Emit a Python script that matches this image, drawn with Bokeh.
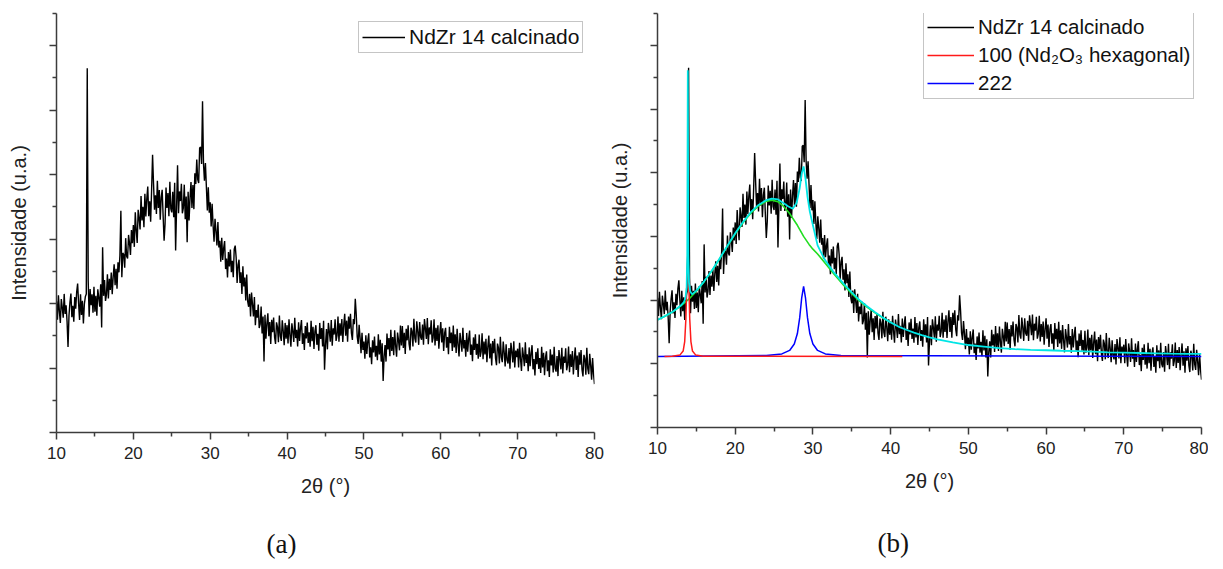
from bokeh.plotting import figure
from bokeh.layouts import row
from bokeh.models import FixedTicker, Legend, LegendItem, Title
from bokeh.embed import file_html
from bokeh.resources import INLINE

# ---------------- data ----------------
theta_start = 10.0
theta_step = 0.125
intensity = [
    # 10.000 - 14.875
    407, 350, 426, 376, 340, 414, 388, 356, 430, 368, 395, 344, 265, 363, 404, 431, 358, 393, 344, 420,
    384, 436, 462, 401, 349, 429, 365, 409, 338, 398, 421, 430, 1130, 470, 359, 445, 395, 429, 372, 452,
    # 15.000 - 19.875
    375, 424, 362, 444, 418, 390, 460, 326, 575, 424, 473, 408, 428, 491, 416, 477, 442, 496, 429, 483,
    522, 457, 508, 446, 528, 497, 549, 688, 482, 557, 552, 511, 603, 547, 540, 613, 587, 551, 628, 587,
    # 20.000 - 24.875
    644, 576, 683, 627, 588, 691, 664, 630, 734, 658, 700, 637, 741, 670, 725, 763, 671, 717, 654, 753,
    862, 772, 691, 736, 678, 781, 697, 752, 660, 730, 753, 671, 595, 647, 760, 697, 743, 671, 778, 694,
    # 25.000 - 29.875
    683, 747, 668, 775, 565, 699, 829, 680, 748, 718, 772, 680, 696, 769, 662, 732, 590, 747, 658, 728,
    777, 697, 768, 693, 804, 771, 847, 785, 774, 883, 886, 833, 1028, 835, 781, 836, 763, 689, 761, 682,
    # 30.000 - 34.875
    714, 639, 710, 643, 592, 663, 626, 580, 653, 574, 595, 530, 604, 535, 572, 594, 507, 540, 481, 560,
    515, 568, 497, 533, 482, 569, 580, 543, 464, 520, 536, 464, 497, 430, 516, 453, 481, 410, 490, 407,
    # 35.000 - 39.875
    390, 430, 360, 434, 398, 360, 420, 333, 380, 356, 397, 324, 336, 391, 307, 360, 220, 365, 291, 338,
    370, 299, 343, 275, 350, 311, 357, 296, 275, 342, 328, 280, 363, 299, 284, 348, 315, 271, 340, 291,
    # 40.000 - 44.875
    333, 276, 351, 302, 266, 339, 314, 281, 356, 293, 319, 267, 342, 284, 324, 349, 275, 308, 256, 330,
    292, 341, 278, 311, 266, 347, 283, 328, 259, 314, 333, 272, 306, 254, 340, 290, 324, 267, 347, 195,
    # 45.000 - 49.875
    272, 321, 258, 340, 313, 282, 349, 269, 323, 304, 351, 284, 301, 360, 282, 339, 300, 352, 281, 333,
    368, 300, 347, 282, 360, 322, 368, 308, 287, 352, 336, 415, 366, 297, 275, 334, 294, 246, 309, 256,
    # 50.000 - 54.875
    282, 229, 302, 244, 283, 308, 233, 264, 212, 286, 248, 298, 235, 269, 224, 305, 242, 288, 220, 277,
    160, 236, 271, 220, 307, 258, 293, 237, 319, 253, 296, 240, 317, 269, 235, 310, 286, 255, 332, 270,
    # 55.000 - 59.875
    330, 262, 309, 244, 322, 286, 333, 275, 255, 325, 314, 267, 353, 292, 279, 345, 314, 272, 343, 296,
    288, 335, 272, 352, 323, 290, 355, 274, 326, 304, 348, 279, 294, 351, 270, 325, 284, 333, 260, 309,
    # 60.000 - 64.875
    343, 279, 323, 253, 308, 325, 263, 296, 243, 328, 277, 310, 253, 332, 264, 305, 247, 322, 273, 236,
    309, 283, 251, 325, 261, 287, 235, 309, 251, 290, 316, 241, 273, 221, 295, 256, 305, 241, 275, 229,
    # 65.000 - 69.875
    304, 235, 251, 308, 227, 282, 242, 291, 218, 267, 301, 230, 276, 208, 284, 246, 291, 230, 209, 276,
    263, 214, 297, 234, 218, 282, 249, 205, 274, 225, 214, 262, 198, 278, 250, 217, 283, 202, 254, 234,
    # 70.000 - 74.875
    260, 202, 278, 228, 191, 264, 239, 206, 280, 216, 243, 190, 264, 206, 246, 271, 196, 228, 177, 250,
    212, 261, 197, 231, 185, 266, 202, 247, 178, 233, 252, 190, 224, 172, 258, 208, 242, 186, 266, 199,
    # 75.000 - 79.875
    189, 237, 175, 256, 228, 196, 263, 183, 236, 216, 261, 193, 209, 267, 187, 243, 203, 253, 180, 230,
    264, 194, 239, 172, 249, 210, 256, 195, 174, 241, 228, 179, 263, 198, 181, 244, 209, 164, 231, 181,
    # 80.000
    150,
]
theta = [theta_start + theta_step * i for i in range(len(intensity))]

# cumulative fit (cyan)
fit_x = [10, 11, 12, 13, 13.4, 13.6, 13.75, 13.83, 13.9, 13.97, 14.05, 14.2, 14.45, 15, 16, 17, 18, 19,
         20, 21, 22, 23, 24, 24.7, 25.5, 26.2, 26.8, 27.4, 27.9, 28.3, 28.55, 28.8, 29.05, 29.3, 29.6,
         30.0, 30.6, 31.5, 32.7, 34, 35, 36, 37, 38, 39, 40, 41, 42, 43, 44, 45, 46, 48, 50, 52, 54,
         56, 58, 60, 62, 64, 66, 68, 70, 72, 74, 76, 78, 80]
fit_y = [338, 350, 364, 383, 394, 406, 440, 540, 1122, 540, 455, 428, 418, 430, 459, 493, 531, 571,
         610, 645, 676, 699, 714, 719, 716, 705, 695, 687, 705, 752, 797, 820, 780, 725, 678,
         635, 572, 528, 487, 450, 424, 400, 380, 362, 345, 330, 317, 307, 298, 290, 283, 277, 267, 259, 254, 249,
         246, 244, 242.5, 241, 240, 238, 236, 235, 234, 233, 232, 231.5, 231]

# amorphous hump (green)
hump_x = [10, 11, 12, 13, 14, 15, 16, 17, 18, 19, 20, 21, 22, 23, 24, 24.7, 25.5, 26.2, 27, 27.4, 28,
          28.8, 29.5, 30, 30.6, 31.5, 32.7, 34, 35, 36, 37, 38, 39, 40]
hump_y = [338, 350, 364, 382, 402, 428, 458, 492, 530, 570, 608, 643, 673, 696, 710, 714, 709, 695, 672,
          657, 635, 600, 575, 560, 545, 518, 482, 445, 420, 397, 377, 360, 344, 330]

# peak 100 (Nd2O3 hexagonal) - red
p100_x = [10.9, 11.9, 12.9, 13.3, 13.5, 13.65, 13.75, 13.82, 13.9, 13.98, 14.05, 14.15, 14.3, 14.5, 14.9, 15.9, 41.5]
p100_y = [223, 224, 228, 240, 270, 340, 430, 500, 545, 500, 430, 340, 270, 240, 228, 224, 223]

# peak 222 - blue
p222_x = [10, 24.0, 26.0, 27.0, 27.6, 28.0, 28.3, 28.55, 28.8, 29.05, 29.3, 29.6, 30.0, 30.6, 31.6, 33.6, 80]
p222_y = [223, 226, 231, 242, 262, 295, 345, 406, 443, 406, 345, 295, 262, 242, 231, 226, 223]

x_major = [10, 20, 30, 40, 50, 60, 70, 80]
x_minor = [15, 25, 35, 45, 55, 65, 75]
y_major = [0, 200, 400, 600, 800, 1000, 1200]
y_minor = [100, 300, 500, 700, 900, 1100, 1300]

FONT = "Liberation Sans"
AXIS_COLOR = "#3c3c3c"


def make_fig(fw, fh, bl, bt, br, bb):
    p = figure(frame_width=fw, frame_height=fh, min_border_left=bl, min_border_top=bt,
               min_border_right=br, min_border_bottom=bb, x_range=(10, 80), y_range=(0, 1300),
               output_backend="svg", toolbar_location=None)
    p.outline_line_color = None
    p.grid.visible = False
    p.xaxis.ticker = FixedTicker(ticks=x_major, minor_ticks=x_minor)
    p.yaxis.ticker = FixedTicker(ticks=y_major, minor_ticks=y_minor)
    for ax in (p.xaxis, p.yaxis):
        ax.axis_line_color = AXIS_COLOR
        ax.axis_line_width = 1.5
        ax.major_tick_line_color = AXIS_COLOR
        ax.major_tick_line_width = 1.5
        ax.minor_tick_line_color = AXIS_COLOR
        ax.minor_tick_line_width = 1.5
        ax.major_tick_in = 0
        ax.major_tick_out = 7
        ax.minor_tick_in = 0
        ax.minor_tick_out = 4
        ax.axis_label_text_font = FONT
        ax.axis_label_text_font_style = "normal"
        ax.axis_label_text_font_size = "20px"
        ax.axis_label_text_color = "#222222"
        ax.major_label_text_font = FONT
        ax.major_label_text_color = "#222222"
    p.xaxis.major_label_text_font_size = "17px"
    p.xaxis.major_label_standoff = 7
    p.xaxis.axis_label = "2θ (°)"
    p.xaxis.axis_label_standoff = 13
    p.yaxis.major_label_overrides = {v: "" for v in y_major}
    p.yaxis.major_label_standoff = 0
    p.yaxis.axis_label = "Intensidade (u.a.)"
    p.yaxis.axis_label_standoff = 20
    return p


def style_legend(lg, size):
    lg.label_text_font = FONT
    lg.label_text_font_size = size
    lg.label_text_color = "#111111"
    lg.glyph_height = 20
    lg.label_height = 20
    lg.label_standoff = 4
    lg.padding = 3
    lg.spacing = 4
    lg.margin = 0
    lg.border_line_color = "#8c8c8c"
    lg.border_line_width = 1
    lg.background_fill_alpha = 1


DATA_W = 1.4

# ---------- panel (a) ----------
pa = make_fig(538, 419, 56, 11, 10, 135)
ra = pa.line(theta, intensity, line_color="black", line_width=DATA_W)
leg_a = Legend(items=[LegendItem(label="NdZr 14 calcinado", renderers=[ra])], location=(302, 379))
style_legend(leg_a, "21px")
leg_a.glyph_width = 43
pa.add_layout(leg_a)
pa.add_layout(Title(text="(a)", align="left", offset=210, standoff=55, text_font="Liberation Serif",
                    text_font_size="27px", text_font_style="normal", text_color="#111111"), "below")

# ---------- panel (b) ----------
pb = make_fig(544, 414, 53, 13, 7, 138)
rb = pb.line(theta, intensity, line_color="black", line_width=DATA_W)
pb.line(hump_x, hump_y, line_color="#22dd22", line_width=1.6)
r222 = pb.line(p222_x, p222_y, line_color="#0000ff", line_width=1.5)
r100 = pb.line(p100_x, p100_y, line_color="#ff1a1a", line_width=1.5)
pb.line(fit_x, fit_y, line_color="#00e5e5", line_width=1.8)
leg_b = Legend(items=[LegendItem(label="NdZr 14 calcinado", renderers=[rb]),
                      LegendItem(label="100 (Nd₂O₃ hexagonal)", renderers=[r100]),
                      LegendItem(label="222", renderers=[r222])], location=(266, 328))
style_legend(leg_b, "20.5px")
leg_b.glyph_width = 47
pb.add_layout(leg_b)
pb.add_layout(Title(text="(b)", align="left", offset=220, standoff=62, text_font="Liberation Serif",
                    text_font_size="27px", text_font_style="normal", text_color="#111111"), "below")

layout = row(pa, pb)
open("out.html", "w").write(file_html(layout, INLINE))
